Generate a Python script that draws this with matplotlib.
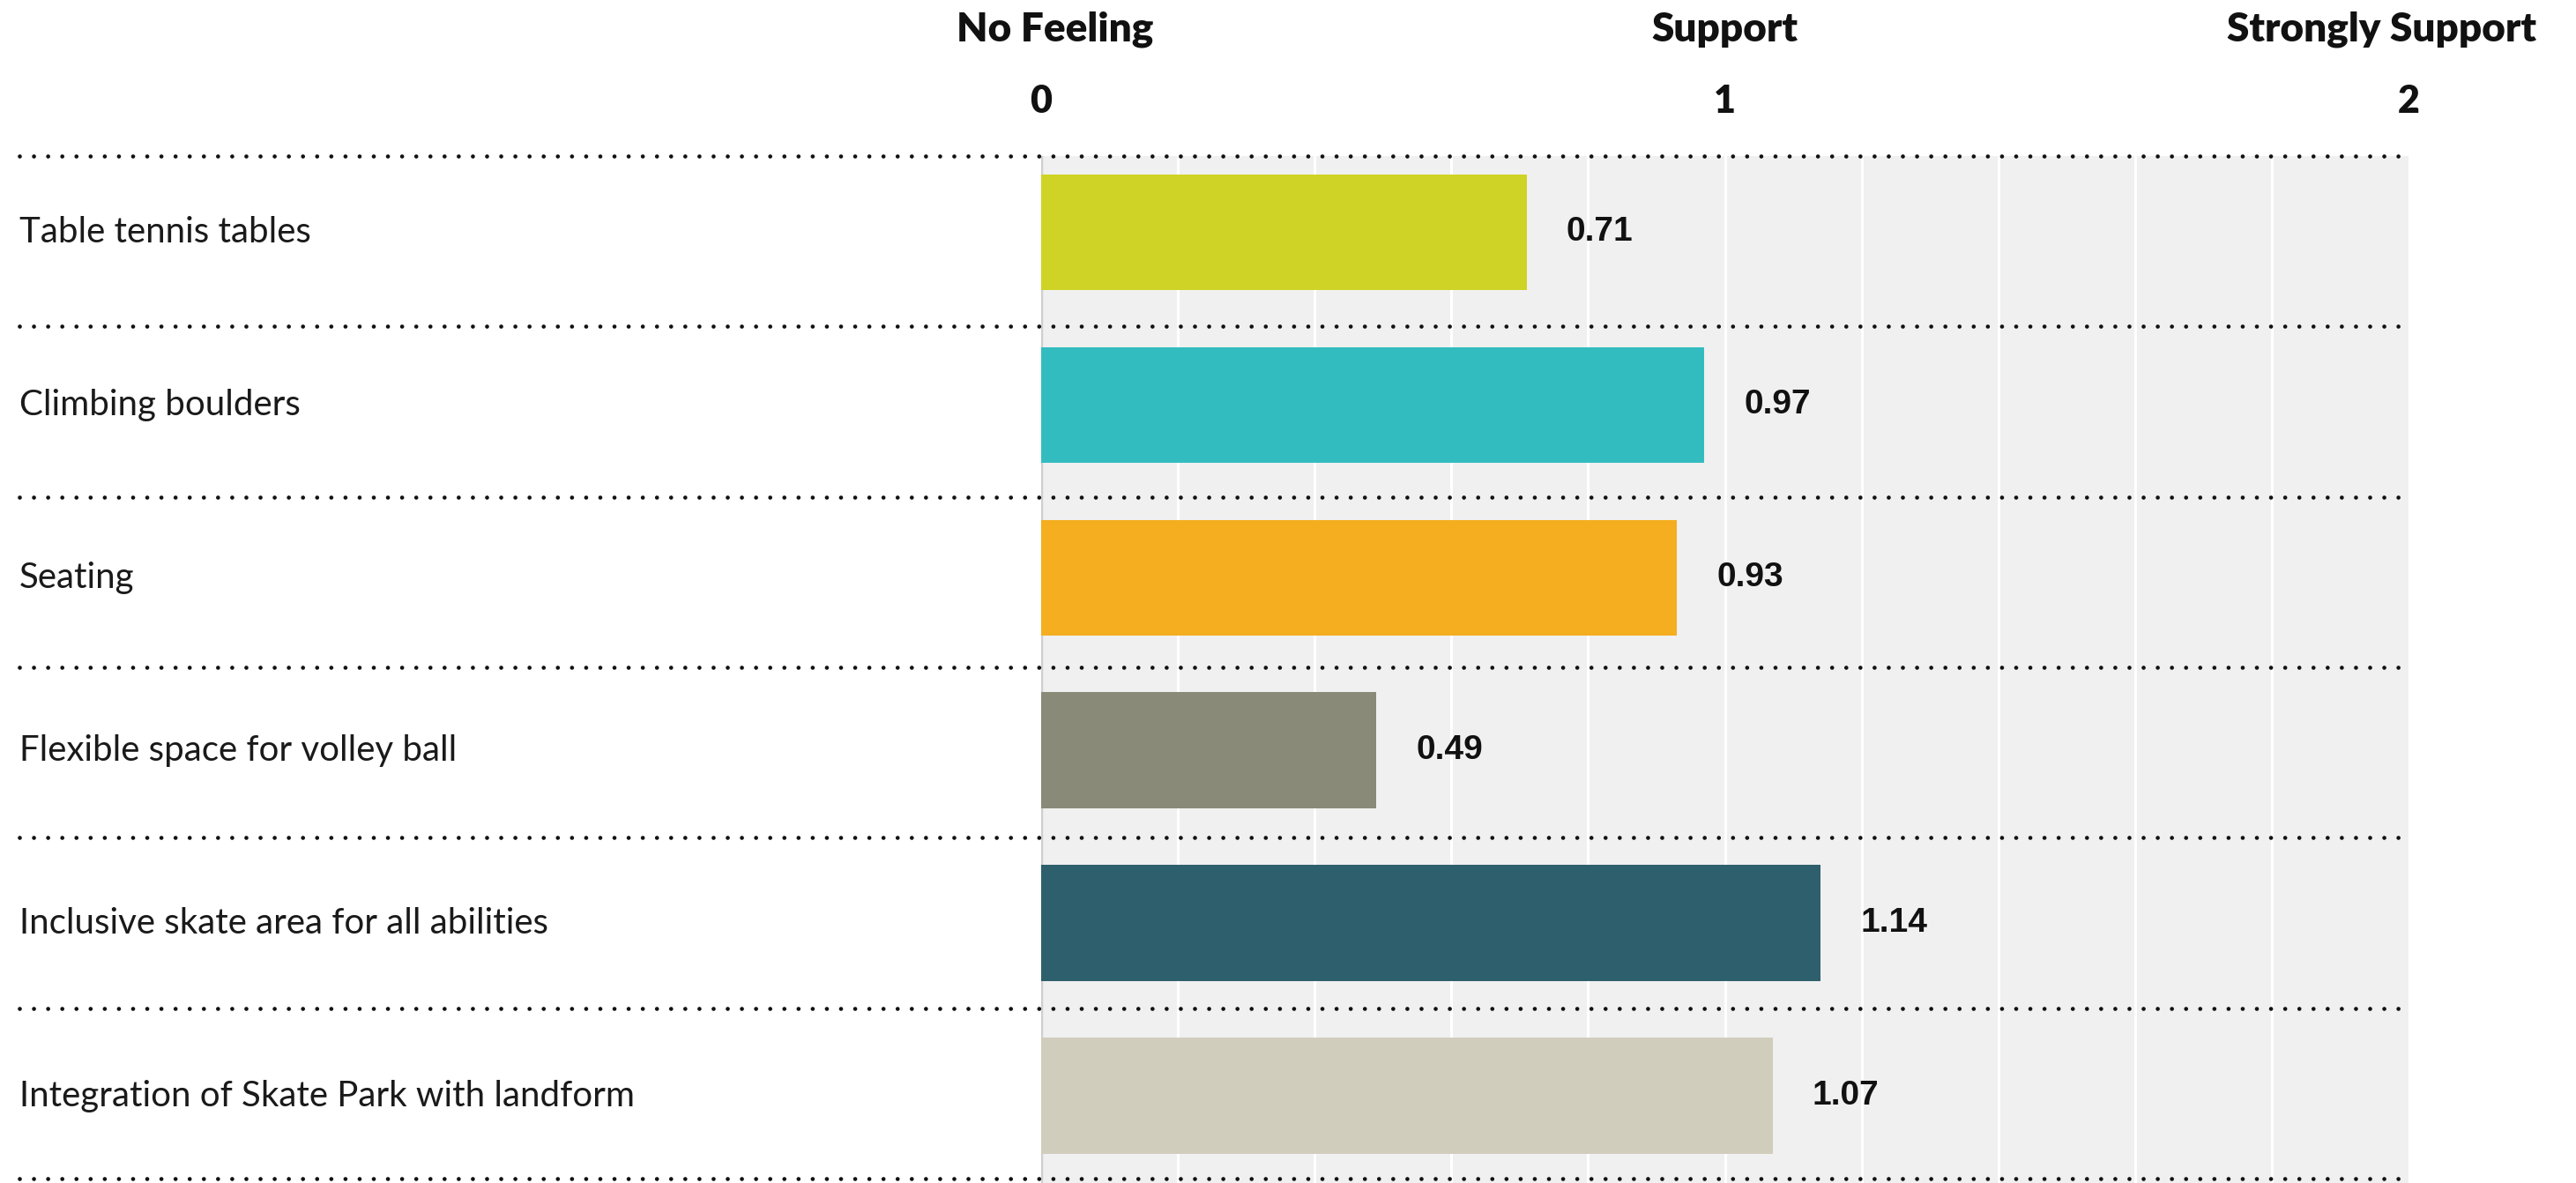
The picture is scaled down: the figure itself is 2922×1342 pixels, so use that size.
import numpy as np
import matplotlib.pyplot as plt
from matplotlib.transforms import blended_transform_factory

# survey items, top to bottom
items = ['Table tennis tables', 'Climbing boulders', 'Seating',
         'Flexible space for volley ball', 'Inclusive skate area for all abilities',
         'Integration of Skate Park with landform']
scores = [0.71, 0.97, 0.93, 0.49, 1.14, 1.07]
colors = ['#cfd325', '#33bcc0', '#f4ae1f', '#898a78', '#2e5f6c', '#d0cdbd']

tick_vals = [0, 1, 2]
tick_names = ['No Feeling', 'Support', 'Strongly Support']
name_pos = [0.02, 1.0, 1.96]

fig = plt.figure(figsize=(29.22, 13.42), dpi=100)
ax = fig.add_axes([0.4042, 0.0, 0.5308, 0.8681])
ax.set_facecolor('#f0f0f0')

y = np.arange(len(items))
ax.barh(y, scores, height=0.67, color=colors, zorder=3)

ax.set_xlim(0, 2)
ax.set_ylim(5.505, -0.44)

# white vertical grid every 0.2, grey zero line
for gx in np.arange(0.2, 2.0, 0.2):
    ax.axvline(gx, color='white', lw=2.2, zorder=1)
ax.axvline(0, color='#cfcfcf', lw=2.5, zorder=2)

# dotted separators, running out to the left edge
for sy in np.linspace(-0.44, 5.48, len(items) + 1):
    ax.axhline(sy, xmin=-0.747, xmax=1.0, color='#111111', lw=3.4,
               linestyle=(0, (0.001, 3.4)), dash_capstyle='round',
               clip_on=False, zorder=4)

for s in ax.spines.values():
    s.set_visible(False)

ax.set_yticks([])
ax.xaxis.tick_top()
ax.set_xticks(tick_vals)
ax.set_xticklabels([str(v) for v in tick_vals], fontsize=31, fontweight='heavy',
                   family='Lato', color='#111111')
ax.tick_params(axis='x', length=0, pad=30)

# headers above the ticks
hdr = blended_transform_factory(ax.transData, fig.transFigure)
for v, name in zip(name_pos, tick_names):
    ax.text(v, 0.975, name, transform=hdr, ha='center', va='center',
            fontsize=33, fontweight='heavy', family='Lato', color='#111111')

# category labels at the far left
lbl = blended_transform_factory(fig.transFigure, ax.transData)
for yi, name in zip(y, items):
    ax.text(0.0075, yi, name, transform=lbl, ha='left', va='center',
            fontsize=29, fontweight='normal', family='Lato', color='#1a1a1a')

# value labels
for yi, v in zip(y, scores):
    ax.text(v + 0.058, yi, f'{v:.2f}', ha='left', va='center', fontsize=28,
            fontweight='bold', family='Liberation Sans', color='#111111', zorder=5)

fig.savefig('out.png', dpi=100)
